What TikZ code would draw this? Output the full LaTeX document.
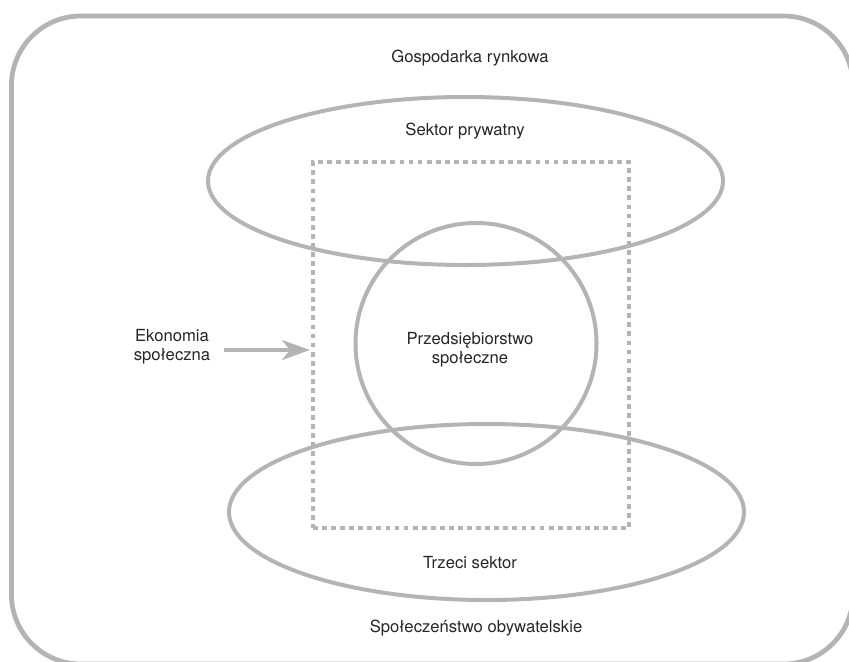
\documentclass[tikz,border=0pt]{standalone}
\usepackage{fontspec}
\setmainfont{TeX Gyre Heros}
\usepackage{tikz}
\usetikzlibrary{shapes.geometric,arrows.meta}
\definecolor{szary}{RGB}{180,180,180}
\tikzset{
    kontur/.style={draw=szary, line width=3pt},
    napis/.style={font=\fontsize{12.5}{14.5}\selectfont, text=black!85, align=center},
}

\begin{document}
\begin{tikzpicture}[x=0.75pt, y=-0.75pt]
                    \useasboundingbox (0,0) rectangle (849,661);
                    % Frame
                    \draw[kontur, line width=3.6pt, rounded corners=52pt] (11.5,16) rectangle (853,664);
                    % Nodes
                    \node[kontur, ellipse, minimum width=515*0.75pt, minimum height=168*0.75pt] (prywatny) at (465.5,181) {};
                    \node[kontur, ellipse, minimum width=515*0.75pt, minimum height=176*0.75pt] (trzeci) at (486.5,512) {};
                    \node[kontur, circle, minimum size=241*0.75pt] (przeds) at (476,343.5) {};
                    \node[draw=szary, line width=3.6pt, dash pattern=on 3.6pt off 3.2pt, minimum width=316*0.75pt, minimum height=366*0.75pt] (ramka) at (471,345) {};
                    \node[napis] (gospodarka) at (470,58) {Gospodarka rynkowa};
                    \node[napis] (sektor) at (465,131) {Sektor prywatny};
                    \node[napis] (przedsnapis) at (470,350) {Przedsiębiorstwo\\społeczne};
                    \node[napis] (ekonomia) at (172,347) {Ekonomia\\społeczna};
                    \node[napis] (trzecinapis) at (470,563) {Trzeci sektor};
                    \node[napis] (obywatelskie) at (476,628) {Społeczeństwo obywatelskie};
                    % Edges
                    \draw[draw=szary, line width=3pt, -{Stealth[length=21pt, width=15pt, inset=6pt]}, shorten <=7pt, shorten >=0.5pt] (ekonomia.east |- 0,350) -- (ramka.west |- 0,350);
                \end{tikzpicture}
\end{document}
